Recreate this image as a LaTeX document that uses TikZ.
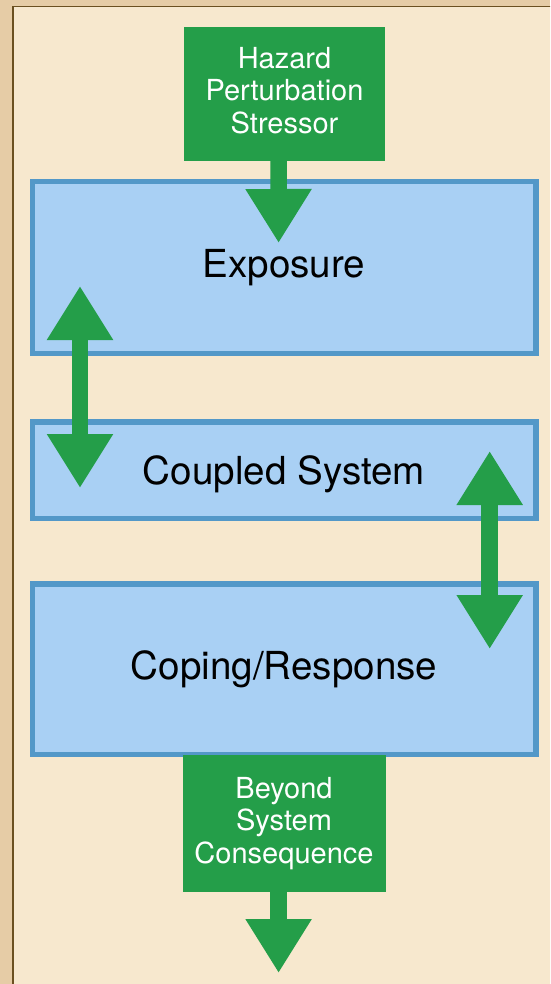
\documentclass[tikz,border=0pt]{standalone}
\usepackage{fontspec}
\setmainfont{TeX Gyre Heros}
\usetikzlibrary{arrows.meta}
\definecolor{outerbg}{HTML}{E6CCA6}
\definecolor{panelbg}{HTML}{F7E8CE}
\definecolor{panelline}{HTML}{6B5020}
\definecolor{boxfill}{HTML}{A9D0F4}
\definecolor{boxline}{HTML}{5398C8}
\definecolor{grn}{HTML}{249E49}
\tikzset{
  bluebox/.style={draw=boxline, fill=boxfill, line width=5.5pt, rectangle,
    minimum width=503.5pt, inner sep=0pt, font=\fontsize{38.6}{46}\selectfont},
  greenbox/.style={fill=grn, rectangle, inner sep=0pt, text=white, align=center,
    font=\fontsize{29}{32.5}\selectfont},
  bigarrow/.style={grn, line width=16.5pt, -{Triangle[width=62.5pt,length=54pt]}},
  dblarrow/.style={grn, line width=16.5pt, {Triangle[width=62.5pt,length=54pt]}-{Triangle[width=62.5pt,length=54pt]}}
}
\begin{document}
\begin{tikzpicture}[x=1pt,y=-1pt]
\useasboundingbox (0,0) rectangle (550,984);
\clip (0,0) rectangle (550,984);
\fill[outerbg] (0,0) rectangle (550,984);
\draw[panelline, line width=1.6pt, fill=panelbg] (13,6.5) rectangle (570,1010);
% boxes
\node[bluebox, minimum height=171.5pt] (exposure) at (284,267.5) {Exposure};
\node[bluebox, minimum height=96.5pt, text height=28pt, text depth=0pt] (coupled) at (284,470) {Coupled System};
\node[bluebox, minimum height=170.5pt] (coping) at (284,669) {Coping/Response};
\node[greenbox, minimum width=201pt, minimum height=134pt, text depth=8pt] (hazard) at (284.5,94) {Hazard\\Perturbation\\Stressor};
\node[greenbox, minimum width=203pt, minimum height=137pt] (beyond) at (284,823.5) {Beyond\\System\\Consequence};
\coordinate (out) at (278.6,973);
% arrows
\draw[bigarrow] ([xshift=-6pt]hazard.south) -- ([xshift=-5.4pt,yshift=-64pt]exposure.north);
\draw[dblarrow] ([xshift=50.5pt,yshift=70pt]exposure.south west) -- ([xshift=50.5pt,yshift=-69pt]coupled.north west);
\draw[dblarrow] ([xshift=-48.8pt,yshift=70pt]coupled.south east) -- ([xshift=-48.8pt,yshift=-68pt]coping.north east);
\draw[bigarrow] ([xshift=-5.4pt]beyond.south) -- (out);
\end{tikzpicture}
\end{document}
